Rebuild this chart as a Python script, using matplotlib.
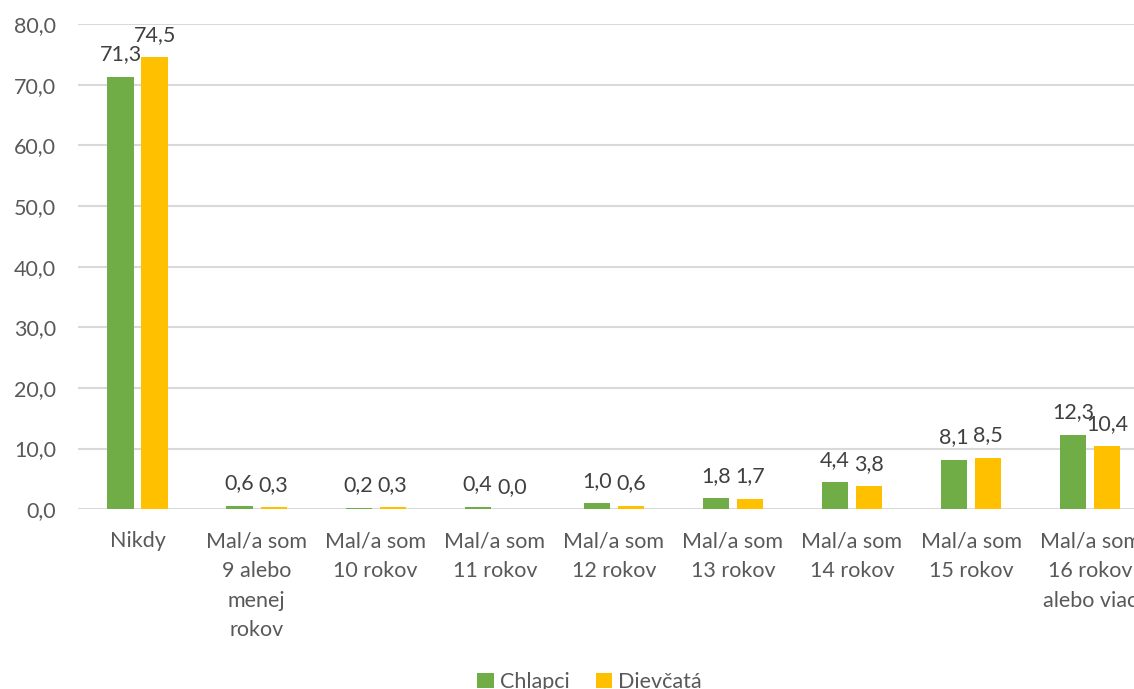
import numpy as np
import matplotlib
matplotlib.use("Agg")
import matplotlib.pyplot as plt

# data
categories = ['Nikdy',
              'Mal/a som\n9 alebo\nmenej\nrokov',
              'Mal/a som\n10 rokov',
              'Mal/a som\n11 rokov',
              'Mal/a som\n12 rokov',
              'Mal/a som\n13 rokov',
              'Mal/a som\n14 rokov',
              'Mal/a som\n15 rokov',
              'Mal/a som\n16 rokov\nalebo viac']
chlapci = [71.3, 0.6, 0.2, 0.4, 1.0, 1.8, 4.4, 8.1, 12.3]
dievcata = [74.5, 0.3, 0.3, 0.0, 0.6, 1.7, 3.8, 8.5, 10.4]
yticks = [0, 10, 20, 30, 40, 50, 60, 70, 80]

plt.rcParams['font.family'] = ['Lato', 'DejaVu Sans']

fig = plt.figure(figsize=(11.34, 6.89), dpi=100)
ax = fig.add_axes([0.0688, 0.261, 0.945, 0.704])

x = np.arange(len(categories))
w = 0.22
off = 0.143
b1 = ax.bar(x - off, chlapci, w, color='#70AD47', label='Chlapci')
b2 = ax.bar(x + off, dievcata, w, color='#FFC000', label='Dievčatá')

def fmt(v):
    return ('%.1f' % v).replace('.', ',')

for bars, vals in ((b1, chlapci), (b2, dievcata)):
    for r, v in zip(bars, vals):
        ax.annotate(fmt(v), (r.get_x() + r.get_width() / 2, v),
                    xytext=(0, 9), textcoords='offset points',
                    ha='center', va='bottom', fontsize=15.5, color='#404040')

ax.set_xlim(-0.5, 8.5)
ax.set_ylim(0, 80)
ax.set_yticks(yticks)
ax.set_yticklabels([fmt(t) for t in yticks])
ax.set_xticks(x)
ax.set_xticklabels(categories, linespacing=1.6)
ax.tick_params(axis='both', length=0, labelsize=15.5, colors='#595959')
ax.tick_params(axis='x', pad=16)
ax.tick_params(axis='y', pad=16)
ax.yaxis.grid(True, color='#D9D9D9', linewidth=1.5)
ax.set_axisbelow(True)
for s in ax.spines.values():
    s.set_visible(False)

fig.legend(loc='center', bbox_to_anchor=(0.52, 0.01), ncol=2, frameon=False,
           fontsize=15.5, handlelength=0.75, handleheight=0.75, handletextpad=0.3,
           columnspacing=1.2, labelcolor='#595959')

fig.savefig('out.png', dpi=100)
